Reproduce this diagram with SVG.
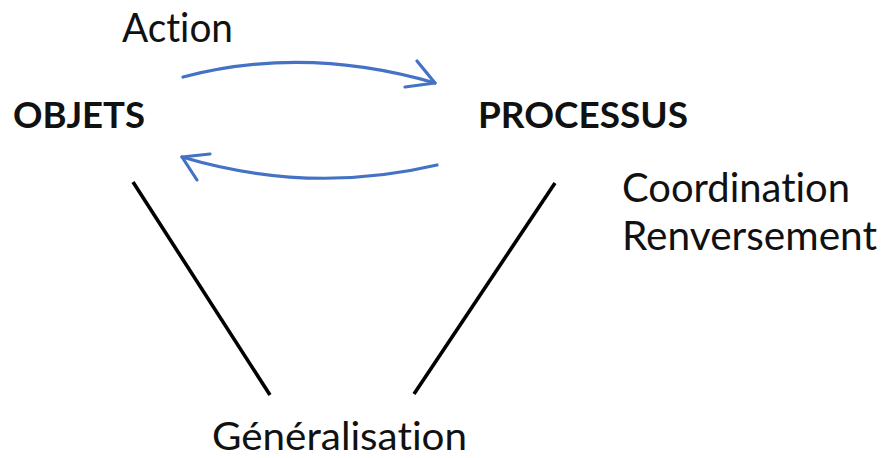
<svg xmlns="http://www.w3.org/2000/svg" width="883" height="458" viewBox="0 0 883 458">
  <style>
    .lbl { font-family: Lato, "Open Sans", "Liberation Sans", sans-serif; fill: #111; font-variant-ligatures: none; }
    .bold { font-weight: bold; }
    .arc { fill: none; stroke: #4472C4; stroke-width: 3.2; stroke-linecap: round; stroke-linejoin: round; }
    .link { fill: none; stroke: #000; stroke-width: 3.6; stroke-linecap: butt; }
  </style>
  <rect width="883" height="458" fill="#fff"/>

  <g id="connectors">
    <!-- Action arc: OBJETS to PROCESSUS -->
    <path class="arc" d="M183,77 Q305,45 435,83"/>
    <path class="arc" d="M417,61 L435,83 L405,87"/>
    <!-- return arc: PROCESSUS to OBJETS -->
    <path class="arc" d="M437,165 Q310,195 182,157"/>
    <path class="arc" d="M210,154 L182,157 L197,180"/>
    <!-- links down to Généralisation -->
    <line class="link" x1="133" y1="182" x2="270" y2="395"/>
    <line class="link" x1="555" y1="183" x2="414" y2="394"/>
  </g>

  <g id="action">
    <text class="lbl" x="122" y="42" font-size="40" textLength="111" lengthAdjust="spacingAndGlyphs">Action</text>
  </g>
  <g id="objets">
    <text class="lbl bold" x="13" y="128" font-size="36" textLength="132" lengthAdjust="spacingAndGlyphs">OBJETS</text>
  </g>
  <g id="processus">
    <text class="lbl bold" x="478" y="128" font-size="36" textLength="210" lengthAdjust="spacingAndGlyphs">PROCESSUS</text>
  </g>
  <g id="coordination">
    <text class="lbl" x="622" y="202" font-size="40" textLength="228" lengthAdjust="spacingAndGlyphs">Coordination</text>
    <text class="lbl" x="622" y="250" font-size="40" textLength="255" lengthAdjust="spacingAndGlyphs">Renversement</text>
  </g>
  <g id="generalisation">
    <text class="lbl" x="212" y="450" font-size="38" textLength="255" lengthAdjust="spacingAndGlyphs">Généralisation</text>
  </g>
</svg>
